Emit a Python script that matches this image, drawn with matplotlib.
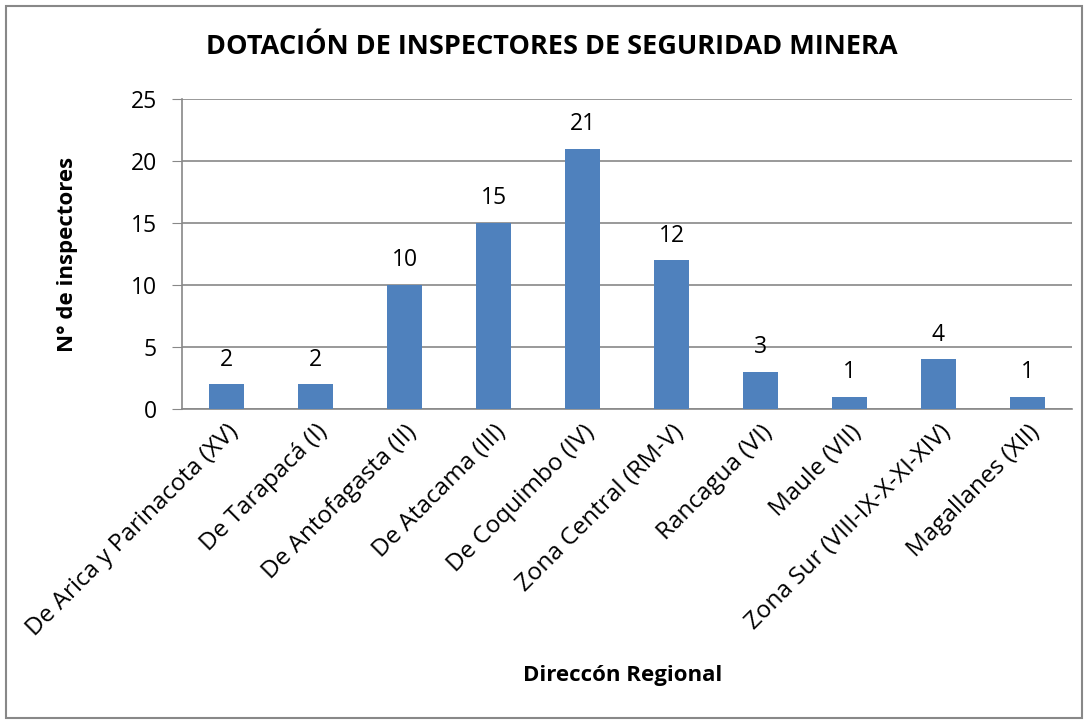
import matplotlib.pyplot as plt
import numpy as np
from matplotlib.patches import Rectangle

# Dotación de inspectores por dirección regional
regiones = ['De Arica y Parinacota (XV)', 'De Tarapacá (I)', 'De Antofagasta (II)',
            'De Atacama (III)', 'De Coquimbo (IV)', 'Zona Central (RM-V)',
            'Rancagua (VI)', 'Maule (VII)', 'Zona Sur (VIII-IX-X-XI-XIV)',
            'Magallanes (XII)']
inspectores = [2, 2, 10, 15, 21, 12, 3, 1, 4, 1]
yticks = [0, 5, 10, 15, 20, 25]

plt.rcParams['font.family'] = ['Open Sans', 'DejaVu Sans']

fig = plt.figure(figsize=(10.86, 7.2), dpi=100)
ax = fig.add_axes([182 / 1086, 1 - 409 / 720, 890 / 1086, 310 / 720])

x = np.arange(len(regiones))
ax.bar(x, inspectores, width=0.39, color='#4F81BD', zorder=3)

for xi, v in zip(x, inspectores):
    ax.annotate(str(v), (xi, v), xytext=(0, 9), textcoords='offset points',
                ha='center', va='bottom', fontsize=16.5)

ax.set_xlim(-0.5, len(regiones) - 0.5)
ax.set_ylim(0, 25)
ax.set_yticks(yticks)
ax.tick_params(axis='y', labelsize=16.5, length=7, color='#888888', pad=11)
ax.tick_params(axis='x', length=0, pad=8)
ax.set_xticks(x)
ax.set_xticklabels(regiones, rotation=45, ha='right', rotation_mode='anchor', fontsize=17.5)
ax.yaxis.grid(True, color='#888888', linewidth=1.2, zorder=0)
for s in ['top', 'right']:
    ax.spines[s].set_visible(False)
for s in ['left', 'bottom']:
    ax.spines[s].set_color('#888888')
    ax.spines[s].set_linewidth(1.2)

ax.set_ylabel('N° de inspectores', fontsize=16, fontweight='bold', labelpad=38)
fig.text(623 / 1086, 1 - 675 / 720, 'Direccón Regional', ha='center', va='center',
         fontsize=16, fontweight='bold')
fig.text(552 / 1086, 1 - 47 / 720, 'DOTACIÓN DE INSPECTORES DE SEGURIDAD MINERA',
         ha='center', va='center', fontsize=19.5, fontweight='bold')

fig.patches.append(Rectangle((6 / 1086, 2 / 720), 1076 / 1086, 712 / 720,
                             transform=fig.transFigure, fill=False,
                             edgecolor='#888888', linewidth=1.5))

fig.savefig('out.png', dpi=100)
